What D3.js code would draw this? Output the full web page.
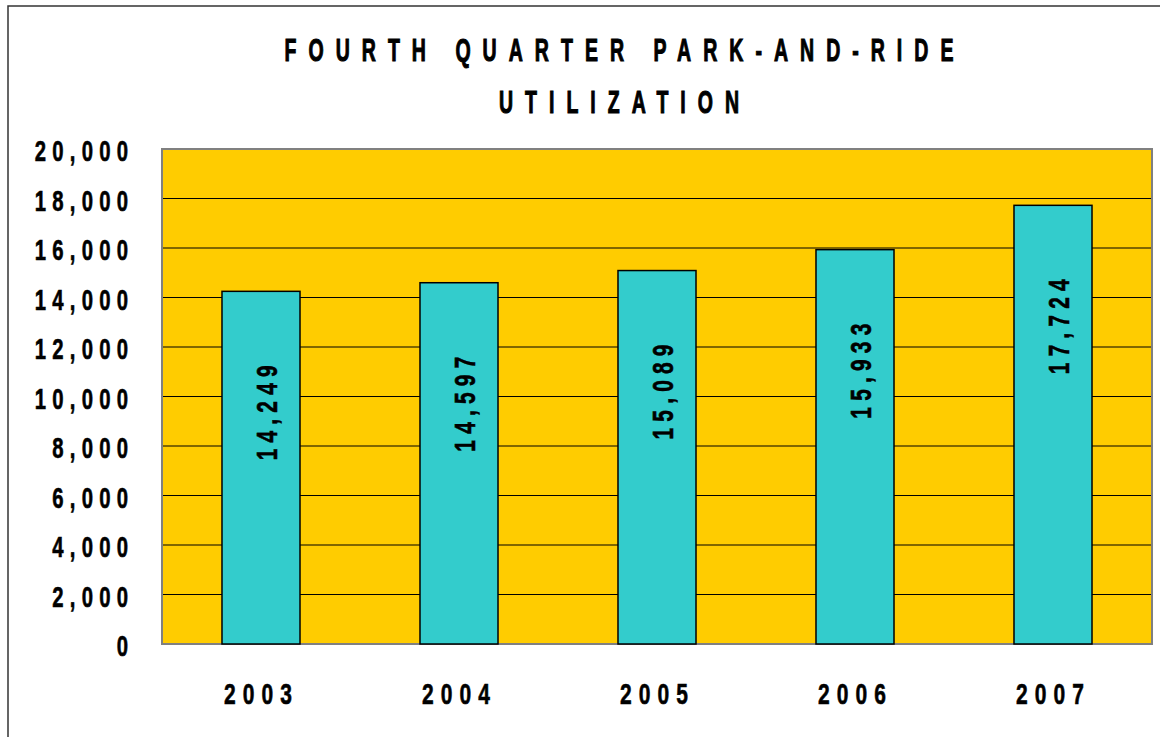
<!DOCTYPE html>
<html>
<head>
<meta charset="utf-8">
<style>
  body { margin: 0; background: #fff; }
  text { font-family: "Liberation Sans", Arial, sans-serif; font-weight: bold; fill: #000; }
  .grid line { stroke: #000; stroke-width: 1; }
</style>
</head>
<body>
<svg id="chart" width="1160" height="737"></svg>
<script src="https://d3js.org/d3.v7.min.js"></script>
<script>
var years = ["2003", "2004", "2005", "2006", "2007"];
var values = [14249, 14597, 15089, 15933, 17724];
var yTicks = [0, 2000, 4000, 6000, 8000, 10000, 12000, 14000, 16000, 18000, 20000];
var titleLines = ["FOURTH QUARTER PARK-AND-RIDE", "UTILIZATION"];

var svg = d3.select("#chart");
var plot = {left: 162, top: 149, right: 1152, bottom: 644};
var fmt = d3.format(",");

// draws condensed text: a group placed at x,y then a horizontally squeezed text
function narrowText(parent, x, y, txt, size, squeeze, spacing, anchor, rotate, weight) {
    var g = parent.append("g")
        .attr("transform", "translate(" + x + "," + y + ") rotate(" + (rotate || 0) + ") scale(" + squeeze + ",1)");
    g.append("text")
        .attr("text-anchor", anchor)
        .attr("dx", anchor == "end" ? spacing : (anchor == "middle" ? spacing / 2 : 0))
        .style("font-size", size + "px")
        .style("letter-spacing", spacing + "px")
        .style("stroke", "#000")
        .style("stroke-width", weight)
        .text(txt);
    return g;
}

// outer frame
svg.append("rect")
    .attr("x", 8).attr("y", 6)
    .attr("width", 1170).attr("height", 760)
    .attr("fill", "none").attr("stroke", "#333").attr("stroke-width", 1.5);

var x = d3.scaleBand().domain(years).range([plot.left, plot.right]).paddingInner(0.606).paddingOuter(0.303);
var y = d3.scaleLinear().domain([0, 20000]).range([plot.bottom, plot.top]);

svg.append("rect")
    .attr("x", plot.left).attr("y", plot.top)
    .attr("width", plot.right - plot.left).attr("height", plot.bottom - plot.top)
    .attr("fill", "#ffcc00");

svg.append("g").attr("class", "grid")
  .selectAll("line")
  .data(yTicks.filter(function(d) { return d > 0 && d < 20000; }))
  .enter().append("line")
    .attr("x1", plot.left).attr("x2", plot.right)
    .attr("y1", function(d) { return y(d); })
    .attr("y2", function(d) { return y(d); });

svg.append("rect")
    .attr("x", plot.left).attr("y", plot.top)
    .attr("width", plot.right - plot.left).attr("height", plot.bottom - plot.top)
    .attr("fill", "none").attr("stroke", "#808080").attr("stroke-width", 2);

var data = years.map(function(d, i) { return {year: d, value: values[i]}; });

svg.append("g").selectAll("rect")
  .data(data)
  .enter().append("rect")
    .attr("x", function(d) { return x(d.year); })
    .attr("y", function(d) { return y(d.value); })
    .attr("width", x.bandwidth())
    .attr("height", function(d) { return y(0) - y(d.value); })
    .attr("fill", "#33cccc")
    .attr("stroke", "#000")
    .attr("stroke-width", 1.5);

// value labels, rotated, near the top of each bar
var vl = svg.append("g");
data.forEach(function(d) {
    narrowText(vl, x(d.year) + x.bandwidth() / 2 + 16, y(d.value) + 74, fmt(d.value), 30, 0.7, 8.8, "end", -90, 0.6);
});

// y tick labels
var yl = svg.append("g");
yTicks.forEach(function(t) {
    narrowText(yl, 128, y(t) + 12, fmt(t), 29, 0.7, 8.9, "end", 0, 0.6);
});

// x labels
var xl = svg.append("g");
years.forEach(function(yr) {
    narrowText(xl, x(yr) + x.bandwidth() / 2 - 3, 704, yr, 30, 0.7, 10.1, "middle", 0, 0.6);
});

// title
var tl = svg.append("g");
titleLines.forEach(function(line, i) {
    narrowText(tl, 619, 61 + i * 52, line, 32, 0.61, 19.7, "middle", 0, 1.1);
});
</script>
</body>
</html>
